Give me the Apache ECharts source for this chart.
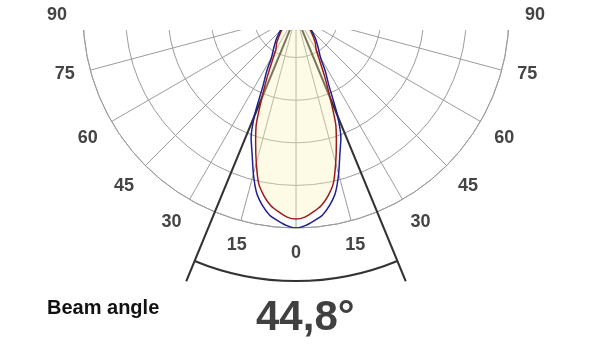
<!DOCTYPE html>
<html><head><meta charset="utf-8">
<script src="https://cdn.jsdelivr.net/npm/echarts@6/dist/echarts.min.js"></script>
<style>html,body{margin:0;padding:0;background:#fff}#c{width:600px;height:360px}</style>
</head><body><div id="c"></div>
<script>
// Angle tick labels (degrees from nadir)
const angleTicks = [-90, -75, -60, -45, -30, -15, 0, 15, 30, 45, 60, 75, 90];
// Curve sample angles
const curveAngles = [-90, -80, -70, -60, -50, -45, -40, -35, -30, -27.5, -25, -22.5, -20, -17.5, -15, -12.5, -10, -7.5, -5, -2.5,
  0, 2.5, 5, 7.5, 10, 12.5, 15, 17.5, 20, 22.5, 25, 27.5, 30, 35, 40, 45, 50, 60, 70, 80, 90];
// Relative intensity, blue plane
const blueValues = [0, 0.015, 0.03, 0.05, 0.08, 0.105, 0.14, 0.178, 0.23, 0.298, 0.366, 0.507, 0.616, 0.685, 0.773, 0.855, 0.908, 0.948, 0.97, 0.99,
  1.0, 0.99, 0.97, 0.948, 0.908, 0.855, 0.773, 0.685, 0.616, 0.507, 0.366, 0.298, 0.23, 0.178, 0.14, 0.105, 0.08, 0.05, 0.03, 0.015, 0];
// Relative intensity, red plane
const redValues = [0, 0.013, 0.028, 0.045, 0.07, 0.09, 0.119, 0.157, 0.19, 0.24, 0.318, 0.416, 0.545, 0.63, 0.72, 0.81, 0.863, 0.903, 0.928, 0.95,
  0.958, 0.95, 0.928, 0.903, 0.863, 0.81, 0.72, 0.63, 0.545, 0.416, 0.318, 0.24, 0.19, 0.157, 0.119, 0.09, 0.07, 0.045, 0.028, 0.013, 0];
const beamAngle = 44.8;
const beamLabel = 'Beam angle';
const beamLineLength = 1.352;
const beamArcRadius = 1.249;

const half = beamAngle / 2;
const blueData = curveAngles.map((a, i) => [blueValues[i], a]);
const redData = curveAngles.map((a, i) => [redValues[i], a]);

const chart = echarts.init(document.getElementById('c'), null, {renderer: 'canvas'});
const gridColor = '#9c9c9c';
const font = '"Liberation Sans", Arial, sans-serif';

chart.setOption({
  animation: false,
  backgroundColor: '#fff',
  title: [
    {text: beamLabel, left: 47, top: 298, padding: 0,
     textStyle: {fontFamily: font, fontSize: 20, fontWeight: 'bold', color: '#111'}},
    {text: beamAngle.toFixed(1).replace('.', ',') + '°', left: 256, top: 297, padding: 0,
     textStyle: {fontFamily: font, fontSize: 42, fontWeight: 'bold', color: '#404040'}}
  ],
  polar: [
    {center: [296, 15], radius: 213},
    {center: [296, 15], radius: 213}
  ],
  angleAxis: [
    {polarIndex: 0, type: 'value', min: -180, max: 180, interval: 15, startAngle: 90, clockwise: true, z: 0,
     axisLine: {show: true, lineStyle: {color: gridColor, width: 1}},
     axisTick: {show: false}, axisLabel: {show: false},
     splitLine: {show: true, lineStyle: {color: gridColor, width: 1}}},
    {polarIndex: 1, type: 'value', min: -180, max: 180, interval: 15, startAngle: 90, clockwise: true, z: 120,
     axisLine: {show: false}, axisTick: {show: false}, splitLine: {show: false},
     axisLabel: {show: true, margin: 16, fontFamily: font, fontSize: 18, fontWeight: 'bold', color: '#444',
       formatter: v => angleTicks.indexOf(v) >= 0 ? String(Math.abs(v)) : ''}}
  ],
  radiusAxis: [
    {polarIndex: 0, type: 'value', min: 0, max: 1, interval: 0.2, z: 0,
     axisLine: {show: false}, axisTick: {show: false}, axisLabel: {show: false},
     splitLine: {show: true, lineStyle: {color: gridColor, width: 1}}},
    {polarIndex: 1, type: 'value', min: 0, max: 1, interval: 0.2,
     axisLine: {show: false}, axisTick: {show: false}, axisLabel: {show: false}, splitLine: {show: false}}
  ],
  graphic: [
    {type: 'rect', left: 0, top: 0, shape: {width: 600, height: 30}, style: {fill: '#fff'}, z: 100}
  ],
  series: [
    {type: 'custom', coordinateSystem: 'polar', polarIndex: 0, clip: false, silent: true,
     data: [[beamLineLength, 0]],
     renderItem: function (params, api) {
       const c = api.coord([0, 0]);
       const e1 = api.coord([beamLineLength, -half]);
       const e2 = api.coord([beamLineLength, half]);
       const a1 = api.coord([beamArcRadius, -half]);
       const a2 = api.coord([beamArcRadius, half]);
       const r = Math.hypot(a1[0] - c[0], a1[1] - c[1]);
       const st = {stroke: '#333', lineWidth: 2, fill: null};
       return {type: 'group', children: [
         {type: 'polyline', shape: {points: [e1, c, e2]}, style: st},
         {type: 'arc', shape: {cx: c[0], cy: c[1], r: r,
           startAngle: Math.atan2(a1[1] - c[1], a1[0] - c[0]),
           endAngle: Math.atan2(a2[1] - c[1], a2[0] - c[0]), clockwise: true}, style: st}
       ]};
     }},
    {type: 'line', coordinateSystem: 'polar', polarIndex: 0, symbol: 'none', smooth: 0.2, silent: true,
     data: redData, areaStyle: {color: 'rgba(250,244,185,0.5)'},
     lineStyle: {color: '#9e1a1a', width: 1.5}},
    {type: 'line', coordinateSystem: 'polar', polarIndex: 0, symbol: 'none', smooth: 0.2, silent: true,
     data: blueData, lineStyle: {color: '#1f1f8f', width: 1.5}}
  ]
});
</script>
</body></html>
